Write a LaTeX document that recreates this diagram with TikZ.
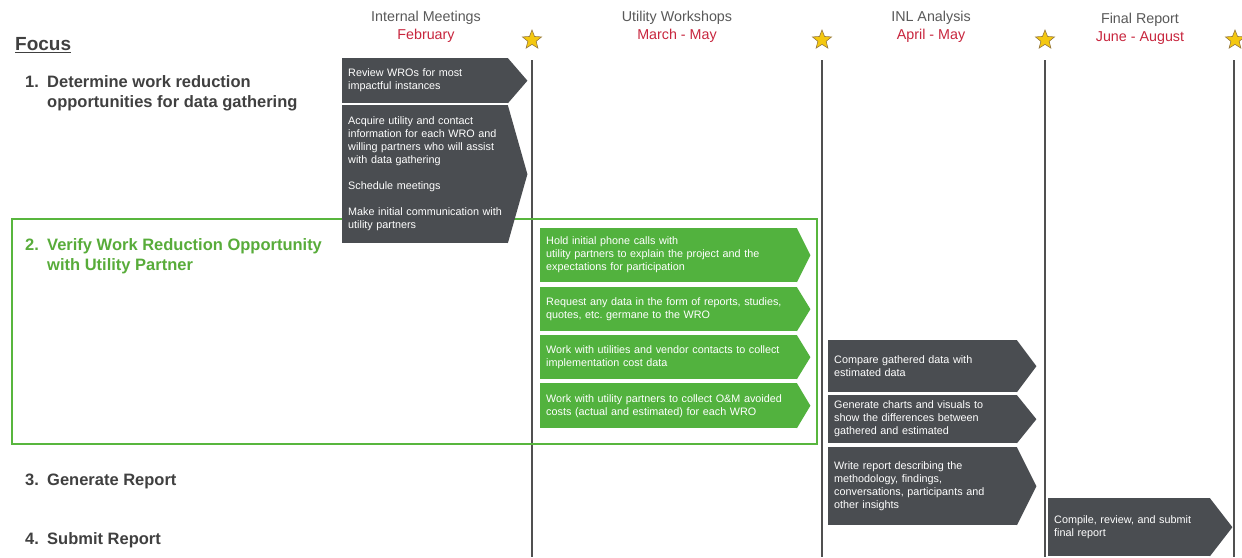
\documentclass[tikz,border=0pt]{standalone}
\usepackage{fontspec}
\setmainfont{Liberation Sans}
\usetikzlibrary{shapes.geometric}
\definecolor{boxgray}{RGB}{74,77,81}
\definecolor{boxgreen}{RGB}{82,178,62}
\definecolor{framegreen}{RGB}{88,182,62}
\definecolor{labelgreen}{RGB}{88,172,58}
\definecolor{headgray}{RGB}{89,89,89}
\definecolor{monthred}{RGB}{200,38,62}
\definecolor{labelgray}{RGB}{64,64,64}
\definecolor{linegray}{RGB}{80,80,80}
\definecolor{staryellow}{RGB}{244,200,16}
\definecolor{stardraw}{RGB}{150,120,60}
\tikzset{
  boxtext/.style={font=\fontsize{10.8}{13}\selectfont, text=white, align=left,
    anchor=north west, inner xsep=6pt, inner ysep=0pt},
  darkbox/.style={boxtext, fill=boxgray},
  greenbox/.style={boxtext, fill=boxgreen},
  head/.style={font=\fontsize{14.3}{16}\selectfont, text=headgray, inner sep=0pt},
  month/.style={font=\fontsize{14.3}{16}\selectfont, text=monthred, inner sep=0pt},
  focusitem/.style={font=\fontsize{16.5}{20}\selectfont\bfseries, text=labelgray,
    align=left, anchor=west, inner sep=0pt},
  milestone/.style={star, star points=5, star point ratio=2.3, minimum size=20pt,
    inner sep=0pt, fill=staryellow, draw=stardraw, line width=0.6pt},
  divider/.style={draw=linegray, line width=1.6pt},
  greenframe/.style={draw=framegreen, line width=2.5pt},
}
\newcommand\tipfill[3]{\fill[#1] ([xshift=-0.6pt]#2.north east) -- ([xshift=#3]#2.east) -- ([xshift=-0.6pt]#2.south east) -- cycle;}
\newcommand\numlab[1]{\makebox[22pt][l]{#1}}
\begin{document}
\begin{tikzpicture}[x=1pt,y=-1pt]
\useasboundingbox[fill=white] (0,0) rectangle (1242,557);

% headers
\node[head] (h1) at (426,18) {Internal Meetings};
\node[month] (m1) at (426,36) {February};
\node[head] (h2) at (677,18) {Utility Workshops};
\node[month] (m2) at (677,36) {March - May};
\node[head] (h3) at (931,18) {INL Analysis};
\node[month] (m3) at (931,36) {April - May};
\node[head] (h4) at (1140,20) {Final Report};
\node[month] (m4) at (1140,38) {June - August};

% stars
\node[milestone] (s1) at (532,40) {};
\node[milestone] (s2) at (822,40) {};
\node[milestone] (s3) at (1045,40) {};
\node[milestone] (s4) at (1235,40) {};

% dividers
\coordinate (d1t) at (532,60); \coordinate (d1b) at (532,557);
\coordinate (d2t) at (822,60); \coordinate (d2b) at (822,557);
\coordinate (d3t) at (1045,60); \coordinate (d3b) at (1045,557);
\coordinate (d4t) at (1234,60); \coordinate (d4b) at (1234,557);
\draw[divider] (d1t) -- (d1b);
\draw[divider] (d2t) -- (d2b);
\draw[divider] (d3t) -- (d3b);
\draw[divider] (d4t) -- (d4b);

% green frame
\draw[greenframe] (12,219) rectangle (817,444);

% focus column
\node[font=\fontsize{19}{22}\selectfont\bfseries, text=labelgray, anchor=west, inner sep=0pt] (focus) at (15,45) {\underline{Focus}};
\node[focusitem] (f1) at (25,93) {\numlab{1.}Determine work reduction\\\hspace*{22pt}opportunities for data gathering};
\node[focusitem, text=labelgreen] (f2) at (25,256) {\numlab{2.}Verify Work Reduction Opportunity\\\hspace*{22pt}with Utility Partner};
\node[focusitem] (f3) at (25,481) {\numlab{3.}Generate Report};
\node[focusitem] (f4) at (25,540) {\numlab{4.}Submit Report};

% internal meetings
\node[darkbox, text width=154pt, minimum height=45pt] (b1) at (342,58)
  {Review WROs for most\\impactful instances};
\tipfill{boxgray}{b1}{19pt}
\node[darkbox, text width=154pt, minimum height=138pt] (b2) at (342,105)
  {Acquire utility and contact\\information for each WRO and\\willing partners who will assist\\with data gathering\\[13pt]Schedule meetings\\[13pt]Make initial communication with\\utility partners};
\tipfill{boxgray}{b2}{19pt}

% utility workshops
\node[greenbox, text width=245pt, minimum height=54pt] (g1) at (540,228)
  {Hold initial phone calls with\\utility partners to explain the project and the\\expectations for participation};
\tipfill{boxgreen}{g1}{13pt}
\node[greenbox, text width=245pt, minimum height=44pt] (g2) at (540,287)
  {Request any data in the form of reports, studies,\\quotes, etc.\ germane to the WRO};
\tipfill{boxgreen}{g2}{13pt}
\node[greenbox, text width=245pt, minimum height=44pt] (g3) at (540,335)
  {Work with utilities and vendor contacts to collect\\implementation cost data};
\tipfill{boxgreen}{g3}{13pt}
\node[greenbox, text width=245pt, minimum height=45pt] (g4) at (540,383)
  {Work with utility partners to collect O\&M avoided\\costs (actual and estimated) for each WRO};
\tipfill{boxgreen}{g4}{13pt}

% INL analysis
\node[darkbox, text width=177pt, minimum height=52pt] (a1) at (828,340)
  {Compare gathered data with\\estimated data};
\tipfill{boxgray}{a1}{19pt}
\node[darkbox, text width=177pt, minimum height=48pt] (a2) at (828,395)
  {Generate charts and visuals to\\show the differences between\\gathered and estimated};
\tipfill{boxgray}{a2}{19pt}
\node[darkbox, text width=177pt, minimum height=78pt] (a3) at (828,447)
  {Write report describing the\\methodology, findings,\\conversations, participants and\\other insights};
\tipfill{boxgray}{a3}{19pt}

% final report
\node[darkbox, text width=150pt, minimum height=58pt] (r1) at (1048,498)
  {Compile, review, and submit\\final report};
\tipfill{boxgray}{r1}{22pt}
\end{tikzpicture}
\end{document}
